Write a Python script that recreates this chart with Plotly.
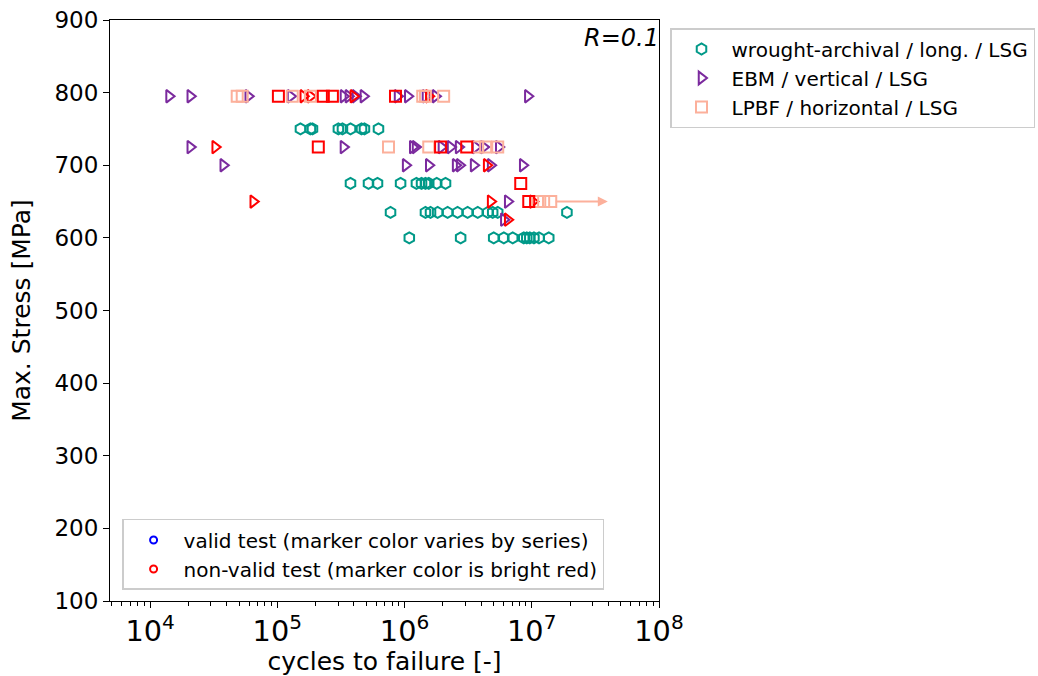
import math
import plotly.graph_objects as go

# ---------------- data ----------------
series_names = ["wrought-archival / long. / LSG", "EBM / vertical / LSG", "LPBF / horizontal / LSG"]
series_colors = ["#009988", "#7b2a9e", "#fcb09b"]
series_symbols = ["hexagon-open", "triangle-right-open", "square-open"]

# wrought-archival (all valid)
wrought_cycles = [1.52e5, 1.82e5, 1.89e5, 3.02e5, 3.25e5, 3.76e5, 4.59e5, 4.84e5, 6.24e5,
                  3.76e5, 5.21e5, 6.13e5, 9.31e5, 1.24e6, 1.36e6, 1.46e6, 1.55e6, 1.79e6, 2.10e6,
                  7.76e5, 1.46e6, 1.60e6, 1.82e6, 2.18e6, 2.61e6, 3.13e6, 3.76e6, 4.51e6, 4.93e6, 5.40e6, 1.89e7,
                  1.09e6, 2.76e6, 5.02e6, 6.03e6, 7.08e6, 8.65e6, 9.14e6, 9.65e6, 1.04e7, 1.14e7, 1.36e7]
wrought_stress = [750] * 9 + [675] * 10 + [635] * 12 + [600] * 11

# EBM valid
ebm_cycles = [1.41e4, 2.07e4, 5.91e4, 1.27e5, 3.31e5, 3.62e5, 4.11e5, 4.75e5, 8.81e5, 1.06e6, 1.46e6, 1.75e6, 9.31e6,
              2.07e4, 3.31e5, 1.16e6, 1.22e6, 1.95e6, 2.30e6, 2.66e6, 3.62e6, 4.19e6, 5.50e6,
              3.76e4, 1.02e6, 1.55e6, 2.52e6, 2.71e6, 3.49e6, 4.75e6, 8.49e6,
              6.47e6, 6.03e6]
ebm_stress = [795] * 13 + [725] * 10 + [700] * 8 + [650, 625]

# EBM non-valid (red)
ebm_nv_cycles = [1.60e5, 1.82e5, 3.96e5, 1.55e6, 3.25e4, 4.42e6, 6.47e4, 4.75e6, 1.02e7, 6.47e6]
ebm_nv_stress = [795, 795, 795, 795, 725, 700, 650, 650, 650, 625]

# LPBF valid
lpbf_cycles = [4.84e4, 5.30e4, 1.31e5, 1.82e5, 1.39e6, 1.46e6, 2.03e6,
               7.48e5, 1.55e6, 3.76e6, 4.34e6, 5.40e6,
               1.11e7, 1.24e7, 1.41e7]
lpbf_stress = [795] * 7 + [725] * 5 + [650] * 3

# LPBF non-valid (red)
lpbf_nv_cycles = [1.02e5, 2.30e5, 2.71e5, 8.49e5, 2.10e5, 1.92e6, 3.08e6, 8.19e6, 9.47e6]
lpbf_nv_stress = [795, 795, 795, 795, 725, 725, 725, 675, 650]

# run-out arrow (LPBF)
runout_start_cycles = [1.5e7]
runout_end_cycles = [3.96e7]
runout_stress = [650]

status_labels = ["valid test (marker color varies by series)", "non-valid test (marker color is bright red)"]
status_colors = ["#0000ff", "#ff0000"]
red = "#ff0000"

FONT = "DejaVu Sans"

fig = go.Figure()

def add(xs, ys, color, symbol, name, showlegend, group):
    fig.add_trace(go.Scatter(
        x=xs, y=ys, mode="markers", name=name, showlegend=showlegend,
        legendgroup=group, legend="legend",
        marker=dict(symbol=symbol, size=11, color=color, line=dict(color=color, width=2)),
    ))

add(wrought_cycles, wrought_stress, series_colors[0], series_symbols[0], series_names[0], True, "g0")
add(ebm_cycles, ebm_stress, series_colors[1], series_symbols[1], series_names[1], True, "g1")
add(ebm_nv_cycles, ebm_nv_stress, red, series_symbols[1], series_names[1] + " (non-valid)", False, "g1")
add(lpbf_cycles, lpbf_stress, series_colors[2], series_symbols[2], series_names[2], True, "g2")
add(lpbf_nv_cycles, lpbf_nv_stress, red, series_symbols[2], series_names[2] + " (non-valid)", False, "g2")

for i, (lab, col) in enumerate(zip(status_labels, status_colors)):
    fig.add_trace(go.Scatter(
        x=[None], y=[None], mode="markers", name=lab, legend="legend2",
        legendgroup="s%d" % i,
        marker=dict(symbol="circle-open", size=7, color=col, line=dict(color=col, width=2)),
    ))

for xs, xe, ys in zip(runout_start_cycles, runout_end_cycles, runout_stress):
    fig.add_annotation(
        x=math.log10(xe), y=ys, ax=math.log10(xs), ay=ys,
        xref="x", yref="y", axref="x", ayref="y",
        showarrow=True, arrowhead=2, arrowsize=1, arrowwidth=2,
        arrowcolor=series_colors[2], text="",
    )

fig.add_annotation(
    x=1.003, y=0.997, xref="paper", yref="paper", xanchor="right", yanchor="top",
    text="<i>R=0.1</i>", showarrow=False, font=dict(family=FONT, size=24, color="black"),
)

fig.update_layout(
    width=1038, height=676,
    margin=dict(l=110, r=379, t=20, b=75, autoexpand=False),
    paper_bgcolor="white", plot_bgcolor="white",
    font=dict(family=FONT, size=22, color="black"),
    legend=dict(
        xref="container", yref="container",
        x=670 / 1038, y=1 - 28 / 676, xanchor="left", yanchor="top",
        bordercolor="#cccccc", borderwidth=1.5, bgcolor="white",
        font=dict(family=FONT, size=20), tracegroupgap=0, traceorder="grouped",
        itemwidth=50,
    ),
    legend2=dict(
        x=0.022, y=0.019, xanchor="left", yanchor="bottom",
        bordercolor="#cccccc", borderwidth=1.5, bgcolor="white",
        font=dict(family=FONT, size=20), tracegroupgap=0, traceorder="grouped",
        itemwidth=50,
    ),
)

fig.update_xaxes(
    type="log", range=[3.685, 8], dtick=1, exponentformat="power",
    showline=True, linecolor="black", linewidth=1.2, mirror=True,
    ticks="outside", ticklen=6, tickwidth=1.2, tickcolor="black",
    minor=dict(ticks="outside", ticklen=3.5, tickwidth=1, tickcolor="black", dtick="D1", showgrid=False),
    showgrid=False, zeroline=False, automargin=False,
    title=dict(text="cycles to failure [-]", font=dict(size=25), standoff=6),
    tickfont=dict(size=23),
)
fig.update_yaxes(
    range=[100, 900], dtick=100,
    showline=True, linecolor="black", linewidth=1.2, mirror=True,
    ticks="outside", ticklen=6, tickwidth=1.2, tickcolor="black",
    showgrid=False, zeroline=False, automargin=False,
    title=dict(text="Max. Stress [MPa]", font=dict(size=25), standoff=16),
    tickfont=dict(size=23),
)

fig.write_html("out.html")
